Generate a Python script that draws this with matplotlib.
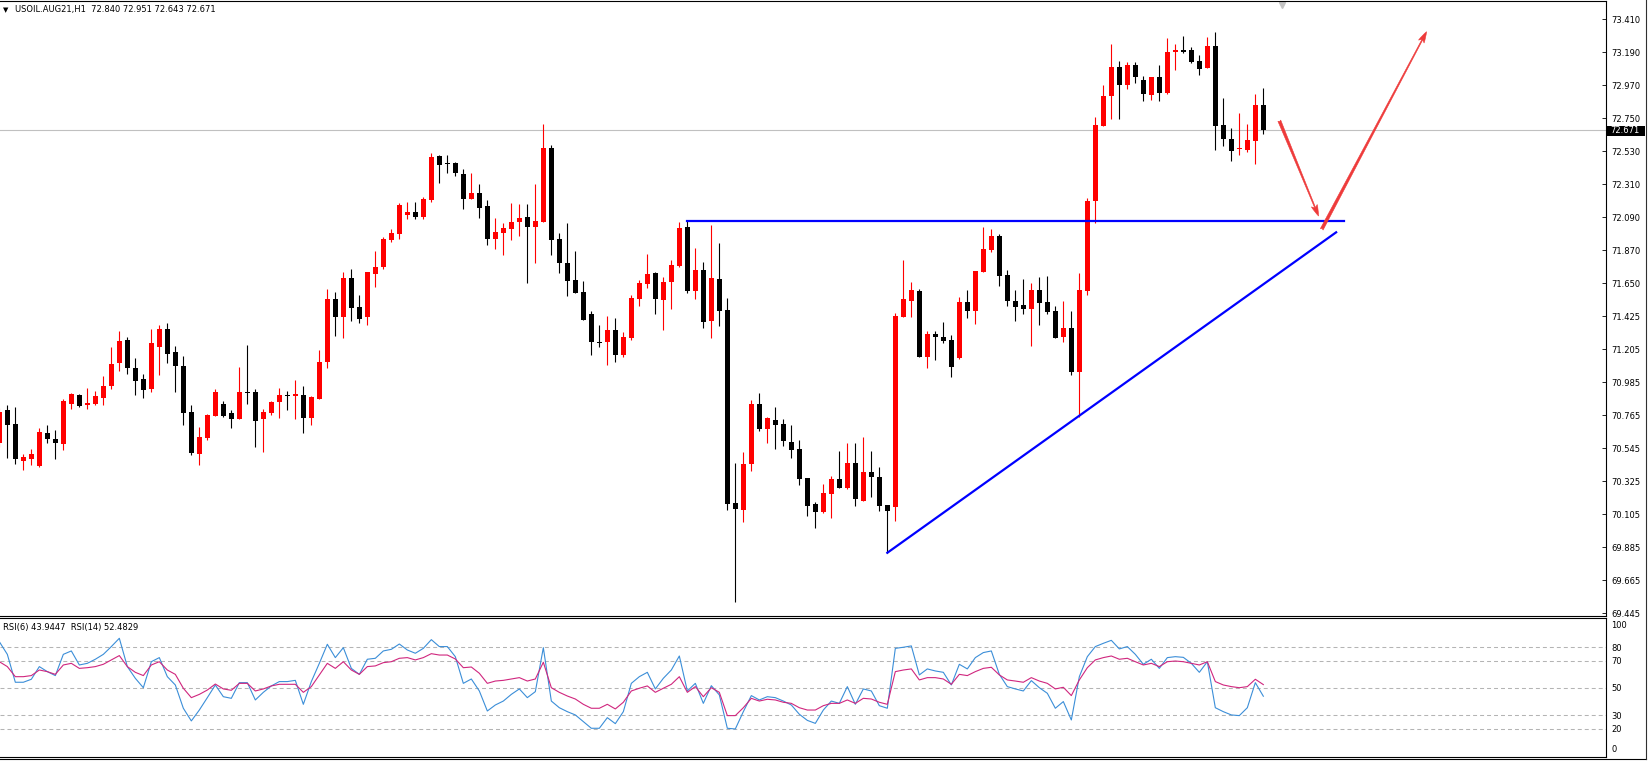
import numpy as np
import matplotlib
matplotlib.use('Agg')
import matplotlib.pyplot as plt
from matplotlib.patches import Rectangle
from matplotlib.lines import Line2D

plt.rcParams['font.family'] = ['DejaVu Sans']

# USOIL.AUG21 H1 candles (oldest first)
opens = [
    70.580, 70.803, 70.709, 70.462, 70.476, 70.429, 70.649, 70.609, 70.576, 70.845,
    70.903, 70.838, 70.845, 70.885, 70.963, 71.119, 71.270, 71.083, 71.010, 70.943,
    71.226, 71.343, 71.192, 71.096, 70.789, 70.511, 70.618, 70.765, 70.843, 70.783,
    70.745, 70.923, 70.923, 70.740, 70.785, 70.856, 70.903, 70.896, 70.903, 70.747,
    70.878, 71.125, 71.544, 71.426, 71.686, 71.490, 71.421, 71.713, 71.759, 71.940,
    71.980, 72.107, 72.124, 72.091, 72.204, 72.498, 72.447, 72.451, 72.380, 72.209,
    72.251, 72.164, 71.946, 71.986, 72.013, 72.058, 72.089, 72.026, 72.060, 72.554,
    71.946, 71.786, 71.671, 71.590, 71.444, 71.259, 71.259, 71.337, 71.170, 71.283,
    71.544, 71.644, 71.719, 71.537, 71.657, 71.762, 72.027, 71.599, 71.737, 71.397,
    71.677, 71.470, 70.180, 70.135, 70.442, 70.843, 70.674, 70.736, 70.709, 70.587,
    70.542, 70.349, 70.175, 70.122, 70.244, 70.342, 70.280, 70.447, 70.195, 70.389,
    70.358, 70.169, 70.158, 71.421, 71.533, 71.599, 71.159, 71.308, 71.292, 71.270,
    71.150, 71.524, 71.466, 71.726, 71.871, 71.966, 71.704, 71.528, 71.501, 71.479,
    71.604, 71.521, 71.464, 71.292, 71.350, 71.056, 71.599, 72.198, 72.698, 72.899,
    73.092, 72.974, 73.106, 73.006, 72.908, 73.026, 72.921, 73.190, 73.206, 73.206,
    73.132, 73.088, 73.232, 72.705, 72.612, 72.543, 72.538, 72.601, 72.840,
]
highs = [
    70.814, 70.836, 70.825, 70.509, 70.542, 70.680, 70.703, 70.669, 70.874, 70.914,
    70.910, 70.952, 70.930, 71.030, 71.226, 71.330, 71.292, 71.150, 71.043, 71.346,
    71.370, 71.386, 71.230, 71.163, 70.836, 70.691, 70.776, 70.943, 70.863, 70.803,
    71.092, 71.237, 70.943, 70.807, 70.865, 70.952, 70.930, 71.003, 70.963, 70.896,
    71.203, 71.610, 71.588, 71.722, 71.742, 71.570, 71.722, 71.864, 71.960, 72.009,
    72.187, 72.189, 72.189, 72.222, 72.520, 72.505, 72.505, 72.460, 72.409, 72.387,
    72.311, 72.204, 72.087, 72.049, 72.184, 72.176, 72.176, 72.311, 72.712, 72.572,
    71.982, 72.049, 71.864, 71.664, 71.464, 71.370, 71.430, 71.415, 71.321, 71.570,
    71.671, 71.844, 71.726, 71.688, 71.802, 72.055, 72.067, 71.882, 71.791, 72.038,
    71.920, 71.548, 70.447, 70.520, 70.867, 70.918, 70.758, 70.821, 70.743, 70.703,
    70.603, 70.349, 70.191, 70.309, 70.362, 70.529, 70.580, 70.580, 70.620, 70.531,
    70.424, 70.169, 71.448, 71.804, 71.659, 71.610, 71.330, 71.330, 71.388, 71.303,
    71.555, 71.604, 71.731, 72.027, 72.009, 71.975, 71.737, 71.604, 71.675, 71.653,
    71.688, 71.697, 71.499, 71.533, 71.464, 71.715, 72.218, 72.761, 72.972, 73.246,
    73.132, 73.128, 73.128, 73.032, 73.026, 73.106, 73.284, 73.246, 73.299, 73.224,
    73.172, 73.295, 73.326, 72.883, 72.683, 72.783, 72.712, 72.912, 72.951,
]
lows = [
    70.558, 70.480, 70.440, 70.402, 70.436, 70.420, 70.585, 70.478, 70.536, 70.812,
    70.821, 70.812, 70.838, 70.836, 70.943, 71.065, 71.043, 70.903, 70.883, 70.925,
    71.039, 71.119, 70.925, 70.703, 70.505, 70.436, 70.602, 70.763, 70.758, 70.685,
    70.745, 70.843, 70.558, 70.525, 70.772, 70.747, 70.803, 70.740, 70.647, 70.700,
    70.878, 71.081, 71.299, 71.286, 71.399, 71.381, 71.370, 71.622, 71.742, 71.922,
    71.946, 72.080, 72.080, 72.080, 72.193, 72.316, 72.387, 72.365, 72.147, 72.209,
    72.087, 71.906, 71.880, 71.840, 71.940, 71.966, 71.653, 71.786, 72.060, 71.840,
    71.715, 71.566, 71.586, 71.406, 71.170, 71.226, 71.103, 71.125, 71.159, 71.270,
    71.497, 71.619, 71.444, 71.337, 71.477, 71.760, 71.586, 71.544, 71.352, 71.286,
    71.363, 70.135, 69.523, 70.057, 70.398, 70.665, 70.585, 70.542, 70.565, 70.485,
    70.302, 70.097, 70.017, 70.117, 70.084, 70.284, 70.278, 70.164, 70.195, 70.224,
    70.131, 69.850, 70.064, 71.421, 71.426, 71.159, 71.085, 71.137, 71.252, 71.025,
    71.141, 71.419, 71.379, 71.726, 71.860, 71.633, 71.497, 71.399, 71.444, 71.232,
    71.370, 71.444, 71.286, 71.259, 71.036, 70.758, 71.570, 72.049, 72.698, 72.745,
    72.745, 72.948, 72.988, 72.865, 72.872, 72.865, 72.912, 73.072, 73.184, 73.117,
    73.039, 73.088, 72.538, 72.565, 72.467, 72.505, 72.527, 72.445, 72.643,
]
closes = [
    70.792, 70.703, 70.476, 70.491, 70.511, 70.656, 70.611, 70.582, 70.865, 70.910,
    70.829, 70.850, 70.896, 70.963, 71.110, 71.263, 71.083, 70.999, 70.938, 71.250,
    71.343, 71.179, 71.099, 70.785, 70.514, 70.625, 70.769, 70.923, 70.763, 70.745,
    70.923, 70.916, 70.731, 70.789, 70.856, 70.903, 70.896, 70.910, 70.747, 70.887,
    71.123, 71.544, 71.426, 71.686, 71.486, 71.412, 71.722, 71.759, 71.946, 71.984,
    72.173, 72.124, 72.091, 72.213, 72.491, 72.440, 72.443, 72.382, 72.213, 72.251,
    72.153, 71.946, 71.991, 72.018, 72.058, 72.087, 72.026, 72.064, 72.554, 71.940,
    71.786, 71.666, 71.586, 71.406, 71.259, 71.252, 71.337, 71.170, 71.292, 71.550,
    71.650, 71.711, 71.546, 71.657, 71.771, 72.018, 71.599, 71.737, 71.390, 71.684,
    71.464, 70.175, 70.140, 70.442, 70.845, 70.674, 70.752, 70.703, 70.598, 70.536,
    70.344, 70.162, 70.124, 70.247, 70.342, 70.284, 70.447, 70.206, 70.389, 70.358,
    70.164, 70.131, 71.430, 71.544, 71.604, 71.159, 71.310, 71.288, 71.263, 71.092,
    71.524, 71.466, 71.731, 71.877, 71.964, 71.699, 71.533, 71.493, 71.479, 71.604,
    71.519, 71.459, 71.286, 71.350, 71.056, 71.604, 72.198, 72.705, 72.899, 73.092,
    72.974, 73.106, 73.028, 72.914, 73.026, 72.921, 73.192, 73.206, 73.195, 73.128,
    73.081, 73.232, 72.698, 72.609, 72.534, 72.549, 72.605, 72.839, 72.671,
]

rsi6 = [
    84.0, 74.7, 54.2, 54.2, 56.4, 65.7, 62.0, 59.1, 74.7, 77.2,
    66.9, 68.1, 71.1, 74.7, 80.4, 86.5, 65.7, 57.1, 50.2, 69.3,
    72.3, 58.3, 52.2, 35.1, 25.8, 33.8, 42.9, 52.2, 43.6, 42.4,
    53.9, 53.9, 41.2, 46.8, 51.5, 54.7, 54.7, 55.6, 38.0, 54.7,
    68.1, 82.1, 72.3, 79.6, 64.4, 60.0, 71.1, 71.8, 77.2, 78.4,
    82.3, 77.9, 75.5, 79.1, 85.5, 80.4, 80.4, 73.0, 53.4, 56.6,
    47.8, 33.1, 37.5, 40.4, 45.3, 49.3, 42.9, 47.3, 79.6, 40.4,
    35.5, 32.6, 30.2, 25.3, 20.4, 20.4, 28.2, 23.8, 32.6, 53.4,
    58.3, 61.5, 49.3, 57.1, 63.2, 73.5, 47.8, 53.4, 38.7, 51.7,
    44.9, 20.4, 19.9, 32.6, 44.4, 41.2, 43.6, 42.9, 40.4, 37.5,
    30.7, 26.2, 24.0, 33.8, 40.4, 38.7, 51.0, 38.0, 49.3, 47.8,
    37.0, 35.1, 79.1, 79.9, 80.9, 59.6, 64.0, 62.5, 61.5, 52.2,
    67.4, 64.0, 72.3, 76.0, 77.2, 60.0, 51.0, 49.3, 47.8, 55.4,
    50.2, 46.1, 35.1, 40.0, 26.5, 58.3, 73.0, 80.4, 82.8, 85.0,
    78.7, 80.4, 74.7, 67.4, 71.1, 64.4, 72.3, 73.0, 72.5, 68.1,
    61.5, 69.3, 35.5, 32.6, 30.2, 29.7, 35.5, 53.9, 43.9447,
]
rsi14 = [
    69.3, 65.7, 58.3, 58.3, 59.1, 63.2, 62.0, 60.0, 66.9, 68.1,
    64.4, 64.9, 65.7, 67.4, 70.6, 73.8, 65.7, 61.5, 59.1, 66.9,
    69.3, 63.2, 60.0, 49.8, 42.9, 45.3, 48.5, 52.9, 49.3, 48.3,
    53.4, 53.4, 47.8, 49.3, 51.5, 52.7, 52.7, 52.7, 46.8, 51.0,
    59.6, 68.1, 64.4, 69.3, 63.2, 60.0, 65.7, 66.2, 68.6, 69.3,
    71.8, 72.3, 70.6, 72.3, 75.2, 74.2, 74.2, 71.3, 64.9, 65.4,
    60.8, 53.4, 55.1, 55.6, 56.6, 57.6, 55.1, 56.6, 68.9, 50.2,
    46.8, 44.1, 41.9, 38.0, 35.1, 35.1, 38.0, 34.6, 39.5, 47.8,
    49.8, 51.5, 46.8, 49.8, 52.7, 58.3, 46.8, 51.0, 43.6, 50.2,
    46.8, 29.7, 29.7, 35.5, 42.4, 40.4, 41.7, 41.2, 39.5, 38.7,
    35.5, 33.8, 33.8, 37.0, 38.7, 38.7, 41.2, 38.7, 42.4, 41.9,
    39.5, 38.0, 62.0, 63.2, 64.0, 55.9, 57.6, 57.6, 56.6, 52.7,
    60.0, 59.1, 62.0, 64.4, 65.2, 59.6, 55.9, 55.1, 54.2, 57.6,
    55.1, 53.4, 49.3, 50.5, 44.4, 55.9, 64.9, 70.6, 72.3, 73.5,
    71.1, 71.8, 69.3, 66.9, 68.1, 65.7, 69.3, 69.8, 69.3, 68.1,
    66.9, 69.3, 54.7, 52.2, 51.0, 50.2, 51.0, 56.4, 52.4829,
]

price_ticks = ['73.410', '73.190', '72.970', '72.750', '72.530', '72.310', '72.090',
               '71.870', '71.650', '71.425', '71.205', '70.985', '70.765', '70.545',
               '70.325', '70.105', '69.885', '69.665', '69.445']
rsi_levels = [80, 70, 50, 30, 20]

# drawn objects: (bar index, price)
resistance = [(86, 72.067), (168.1, 72.067)]
trendline = [(111, 69.850), (167.1, 71.989)]
arrow_down = [(160.0, 72.734), (164.9, 72.098)]
arrow_up = [(165.3, 72.009), (178.4, 73.328)]
last_price = 72.671

FS = 6
W, H = 1648, 762
fig = plt.figure(figsize=(W / 100, H / 100), dpi=100)
fig.patch.set_facecolor('white')


def box(x0, y0, x1, y1):
    # axes from a pixel box measured from the top-left corner
    return fig.add_axes([x0 / W, 1 - y1 / H, (x1 - x0) / W, (y1 - y0) / H])


ax = box(0, 1, 1606, 616)
rax = box(0, 618, 1606, 757)
xlim = ((0 + 0.67) / 8, (1606 + 0.67) / 8)

o = np.array(opens); h = np.array(highs); l = np.array(lows); c = np.array(closes)
x = np.arange(len(c))
cols = np.where(c >= o, '#ff0000', '#000000')
ax.vlines(x, l, h, colors=cols, lw=0.8)
ax.bar(x, np.maximum(np.abs(c - o), 0.007), bottom=np.minimum(o, c),
       width=0.62, color=cols, linewidth=0)

ax.axhline(last_price, color='#c0c0c0', lw=0.8, zorder=0)
ax.plot(*zip(*resistance), color='#0000ff', lw=1.6)
ax.plot(*zip(*trendline), color='#0000ff', lw=1.6)
for a in (arrow_down, arrow_up):
    ax.annotate('', xy=a[1], xytext=a[0],
                arrowprops=dict(arrowstyle='fancy,head_length=0.8,head_width=0.45,tail_width=0.22',
                                color='#ee3a3a', lw=0.4, shrinkA=0, shrinkB=0, mutation_scale=10))
# chart shift marker
ax.plot([160.3], [0.994], marker='v', ms=5, color='#c4c4c4', transform=ax.get_xaxis_transform(),
        clip_on=False)

ax.set_xlim(*xlim)
ax.set_ylim(69.428, 73.533)
ax.set_xticks([])
ax.set_yticks(np.linspace(69.445, 73.410, 19))
ax.set_yticklabels(price_ticks[::-1])
ax.yaxis.tick_right()
ax.tick_params(axis='y', direction='in', length=3, width=0.6, pad=3.6, labelsize=FS)
for s in ('top', 'right', 'bottom'):
    ax.spines[s].set_linewidth(0.8)
ax.spines['left'].set_visible(False)

# RSI window
rax.plot(x, rsi6, color='#3b8ed8', lw=0.8)
rax.plot(x, rsi14, color='#d0267e', lw=0.8)
for lv in rsi_levels:
    rax.axhline(lv, color='#b4b4b4', lw=0.75, ls=(0, (3.8, 2.9)), zorder=0)
rax.set_xlim(*xlim)
rax.set_ylim(-0.7, 101.4)
rax.set_xticks([])
rax.set_yticks(rsi_levels)
rax.set_yticklabels([str(v) for v in rsi_levels])
rax.yaxis.tick_right()
rax.tick_params(axis='y', direction='in', length=0, pad=3.6, labelsize=FS)
for s in ('top', 'right', 'bottom'):
    rax.spines[s].set_linewidth(0.8)
rax.spines['left'].set_visible(False)


def ftext(px, py, s, size=FS, **kw):
    return fig.text(px / W, 1 - py / H, s, va='center', fontsize=size, **kw)


ftext(1611, 625.4, '100')
ftext(1611, 750, '0')
ftext(14.7, 9.5, 'USOIL.AUG21,H1  72.840 72.951 72.643 72.671')
ftext(2.5, 9.8, '\u25bc', size=5)
ftext(3.3, 627.7, 'RSI(6) 43.9447  RSI(14) 52.4829')

# current price tag
fig.patches.append(Rectangle((1606 / W, 1 - 136 / H), 38.5 / W, 10.5 / H,
                             transform=fig.transFigure, fc='black', ec='none', zorder=5))
tag = ftext(1610.5, 130.8, '72.671', color='white')
tag.set_zorder(6)

# window edges
fig.lines.append(Line2D([0, 1646 / W], [1 - 759.3 / H] * 2, transform=fig.transFigure,
                        color='black', lw=0.8))
fig.lines.append(Line2D([1646 / W] * 2, [1 - 759.3 / H, 1], transform=fig.transFigure,
                        color='#303030', lw=0.8))

fig.savefig('out.png', dpi=100)
